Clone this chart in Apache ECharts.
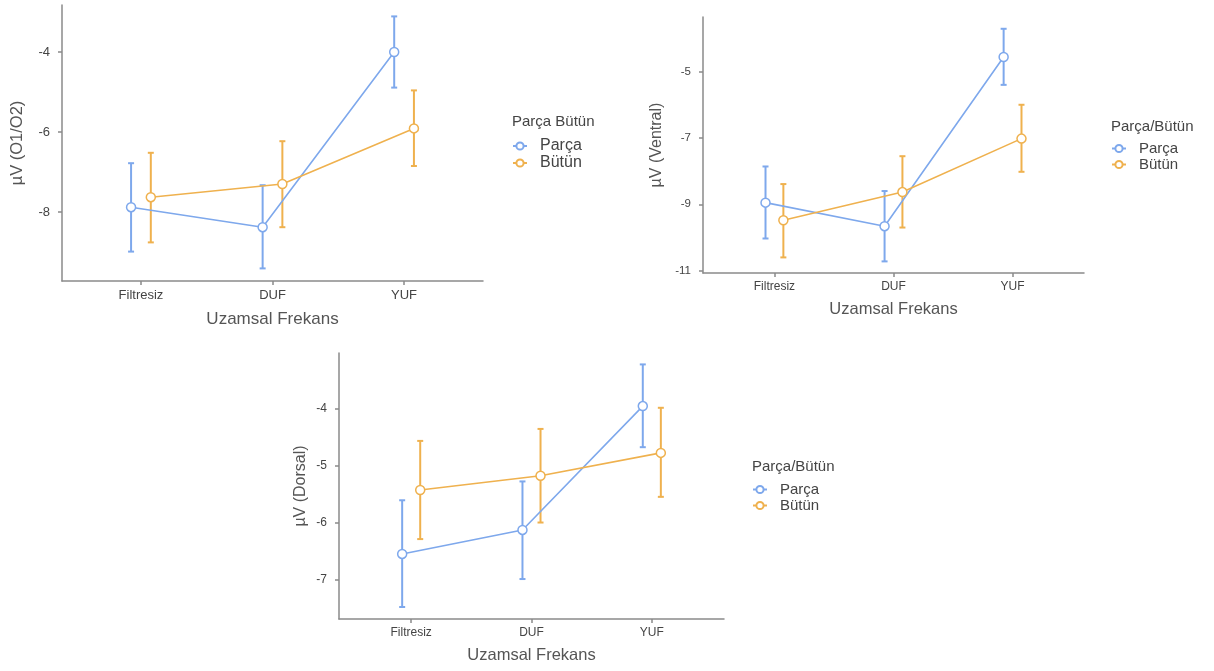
<!DOCTYPE html>
<html>
<head>
<meta charset="utf-8">
<script src="https://cdn.jsdelivr.net/npm/echarts@6/dist/echarts.min.js"></script>
<style>
html,body{margin:0;padding:0;background:#fff;}
#chart{width:1214px;height:671px;}
</style>
</head>
<body>
<div id="chart"></div>
<script>
// ---------- DATA ----------
const categories = ['Filtresiz', 'DUF', 'YUF'];
const groups = ['Parça', 'Bütün'];

// O1/O2
const o1ParcaMean  = [-7.88, -8.38, -4.00];
const o1ParcaLow   = [-8.99, -9.41, -4.89];
const o1ParcaHigh  = [-6.78, -7.33, -3.11];
const o1ButunMean  = [-7.63, -7.30, -5.91];
const o1ButunLow   = [-8.76, -8.38, -6.85];
const o1ButunHigh  = [-6.52, -6.23, -4.96];

// Ventral
const venParcaMean = [-8.95, -9.66, -4.56];
const venParcaLow  = [-10.03, -10.72, -5.40];
const venParcaHigh = [-7.86, -8.60, -3.71];
const venButunMean = [-9.48, -8.63, -7.02];
const venButunLow  = [-10.60, -9.70, -8.02];
const venButunHigh = [-8.39, -7.55, -6.00];

// Dorsal
const dorParcaMean = [-6.54, -6.12, -3.95];
const dorParcaLow  = [-7.47, -6.98, -4.67];
const dorParcaHigh = [-5.60, -5.27, -3.22];
const dorButunMean = [-5.42, -5.17, -4.77];
const dorButunLow  = [-6.28, -5.99, -5.54];
const dorButunHigh = [-4.56, -4.35, -3.98];

const o1Ticks  = [-8, -6, -4];
const venTicks = [-11, -9, -7, -5];
const dorTicks = [-7, -6, -5, -4];

const yTitles = ['µV (O1/O2)', 'µV (Ventral)', 'µV (Dorsal)'];
const xTitle = 'Uzamsal Frekans';
const legendTitles = ['Parça Bütün', 'Parça/Bütün', 'Parça/Bütün'];

// ---------- STYLE ----------
const colors = ['#7ea8ec', '#efb14e'];
const FONT = '"Liberation Sans", Arial, sans-serif';
const dodge = [-0.075, 0.075];

const panels = [
  {data: [[o1ParcaMean, o1ParcaLow, o1ParcaHigh], [o1ButunMean, o1ButunLow, o1ButunHigh]], ticks: o1Ticks,
   grid: {left: 62, top: 5, width: 421, height: 276}, ymin: -9.725, ymax: -2.825,
   tickFont: 13, yLabFont: 13, nameFont: 17, xGap: 30, yGap: 36,
   legend: {left: 512, top: 138, title: 114, font: 16, titleFont: 15}},
  {data: [[venParcaMean, venParcaLow, venParcaHigh], [venButunMean, venButunLow, venButunHigh]], ticks: venTicks,
   grid: {left: 703, top: 17, width: 381, height: 256}, ymin: -11.07, ymax: -3.355,
   tickFont: 12, yLabFont: 11.5, nameFont: 16.5, xGap: 28, yGap: 38,
   legend: {left: 1111, top: 141, title: 119, font: 15, titleFont: 15}},
  {data: [[dorParcaMean, dorParcaLow, dorParcaHigh], [dorButunMean, dorButunLow, dorButunHigh]], ticks: dorTicks,
   grid: {left: 339, top: 353, width: 385, height: 266}, ymin: -7.68, ymax: -3.02,
   tickFont: 12, yLabFont: 12, nameFont: 16.5, xGap: 28, yGap: 30,
   legend: {left: 752, top: 482, title: 459, font: 15, titleFont: 15}}
];

const axisLineStyle = {color: '#8a8a8a', width: 1.5};

const grids = [], xAxes = [], yAxes = [], series = [], legends = [], titles = [];

panels.forEach((p, pi) => {
  grids.push(Object.assign({containLabel: false}, p.grid));
  xAxes.push({
    type: 'value', gridIndex: pi, min: 0.4, max: 3.6,
    name: xTitle, nameLocation: 'middle', nameGap: p.xGap,
    nameTextStyle: {fontSize: p.nameFont, color: '#555', fontFamily: FONT},
    axisLine: {show: true, lineStyle: axisLineStyle},
    axisTick: {show: true, length: 4, lineStyle: axisLineStyle, customValues: [1, 2, 3]},
    axisLabel: {customValues: [1, 2, 3], margin: 8, fontSize: p.tickFont, color: '#444', fontFamily: FONT,
      formatter: v => categories[Math.round(v) - 1] || ''},
    splitLine: {show: false}
  });
  yAxes.push({
    type: 'value', gridIndex: pi, min: p.ymin, max: p.ymax,
    name: yTitles[pi], nameLocation: 'middle', nameGap: p.yGap,
    nameTextStyle: {fontSize: p.nameFont - 0.5, color: '#555', fontFamily: FONT},
    axisLine: {show: true, lineStyle: axisLineStyle},
    axisTick: {show: true, length: 4, lineStyle: axisLineStyle, customValues: p.ticks},
    axisLabel: {customValues: p.ticks, margin: 12, fontSize: p.yLabFont, color: '#444', fontFamily: FONT},
    splitLine: {show: false}
  });

  // line series first (for legend icon)
  groups.forEach((g, gi) => {
    const [mean] = p.data[gi];
    series.push({
      type: 'line', name: g, xAxisIndex: pi, yAxisIndex: pi,
      data: mean.map((m, i) => [i + 1 + dodge[gi], m]),
      symbol: 'circle', symbolSize: 9,
      itemStyle: {color: '#ffffff', borderColor: colors[gi], borderWidth: 1.5},
      lineStyle: {color: colors[gi], width: 1.6},
      z: 3, animation: false
    });
  });
  groups.forEach((g, gi) => {
    const [mean, low, high] = p.data[gi];
    const col = colors[gi];
    series.push({
      type: 'custom', name: g, xAxisIndex: pi, yAxisIndex: pi,
      data: mean.map((m, i) => [i + 1 + dodge[gi], low[i], high[i]]),
      encode: {x: 0, y: [1, 2]},
      renderItem: (params, api) => {
        const x = api.value(0);
        const a = api.coord([x, api.value(1)]);
        const b = api.coord([x, api.value(2)]);
        const w = 3;
        const st = {stroke: col, lineWidth: 2};
        return {type: 'group', children: [
          {type: 'line', shape: {x1: a[0], y1: a[1], x2: b[0], y2: b[1]}, style: st},
          {type: 'line', shape: {x1: a[0] - w, y1: a[1], x2: a[0] + w, y2: a[1]}, style: st},
          {type: 'line', shape: {x1: b[0] - w, y1: b[1], x2: b[0] + w, y2: b[1]}, style: st}
        ]};
      },
      z: 2, animation: false
    });
  });

  legends.push({
    data: groups, orient: 'vertical', left: p.legend.left, top: p.legend.top,
    itemWidth: 14, itemHeight: 9, itemGap: 1, padding: 0,
    selectedMode: false,
    textStyle: {fontSize: p.legend.font, color: '#444', fontFamily: FONT, padding: [0, 0, 0, 8]}
  });
  titles.push({
    text: legendTitles[pi], left: p.legend.left, top: p.legend.title, padding: 0,
    textStyle: {fontSize: p.legend.titleFont, fontWeight: 'normal', color: '#444', fontFamily: FONT}
  });
});

const chart = echarts.init(document.getElementById('chart'), null, {renderer: 'canvas'});
chart.setOption({
  backgroundColor: '#ffffff',
  animation: false,
  title: titles,
  grid: grids,
  xAxis: xAxes,
  yAxis: yAxes,
  legend: legends,
  series: series
});
</script>
</body>
</html>
